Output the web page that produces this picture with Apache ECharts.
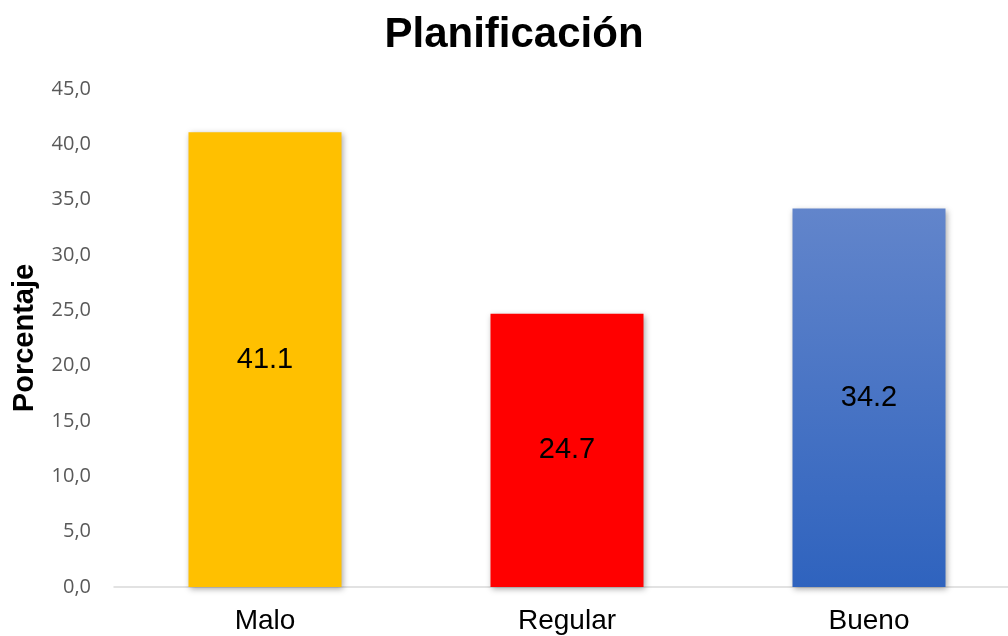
<!DOCTYPE html>
<html>
<head>
<meta charset="utf-8">
<script src="https://cdn.jsdelivr.net/npm/echarts@6/dist/echarts.min.js"></script>
<style>
  html, body { margin: 0; padding: 0; background: #ffffff; }
  #chart { width: 1008px; height: 636px; }
</style>
</head>
<body>
<div id="chart"></div>
<script>
// Chart data
const categories = ['Malo', 'Regular', 'Bueno'];
const values = [41.1, 24.7, 34.2];
const yTicks = [0, 5, 10, 15, 20, 25, 30, 35, 40, 45];

const barColors = [
  '#FFC000',
  '#FF0000',
  new echarts.graphic.LinearGradient(0, 0, 0, 1, [
    { offset: 0, color: '#6285CB' },
    { offset: 1, color: '#2F63BE' }
  ])
];

const chart = echarts.init(document.getElementById('chart'), null, { renderer: 'canvas' });

chart.setOption({
  animation: false,
  backgroundColor: '#ffffff',
  title: {
    text: 'Planificación',
    left: 509,
    top: 9,
    textAlign: 'center',
    textStyle: {
      fontFamily: 'Liberation Sans, Arial, sans-serif',
      fontSize: 42,
      fontWeight: 'bold',
      color: '#000000'
    }
  },
  grid: {
    left: 114,
    right: -12,
    top: 89,
    bottom: 49,
    containLabel: false,
    outerBoundsMode: 'none'
  },
  xAxis: {
    type: 'category',
    data: categories,
    axisLine: { show: true, lineStyle: { color: '#D9D9D9', width: 1.5 } },
    axisTick: { show: false },
    axisLabel: {
      margin: 20,
      fontFamily: 'Liberation Sans, Arial, sans-serif',
      fontSize: 28,
      color: '#000000'
    }
  },
  yAxis: {
    type: 'value',
    min: yTicks[0],
    max: yTicks[yTicks.length - 1],
    interval: yTicks[1] - yTicks[0],
    name: 'Porcentaje',
    nameLocation: 'middle',
    nameGap: 75,
    nameRotate: 90,
    nameTextStyle: {
      fontFamily: 'Liberation Sans, Arial, sans-serif',
      fontSize: 29,
      fontWeight: 'bold',
      color: '#000000'
    },
    axisLine: { show: false },
    axisTick: { show: false },
    splitLine: { show: false },
    axisLabel: {
      margin: 23,
      fontFamily: 'Open Sans, Liberation Sans, sans-serif',
      fontSize: 20,
      color: '#595959',
      formatter: v => v.toFixed(1).replace('.', ',')
    }
  },
  series: [{
    type: 'bar',
    barWidth: 153,
    data: values.map((v, i) => ({
      value: v,
      itemStyle: {
        color: barColors[i],
        shadowColor: 'rgba(0,0,0,0.35)',
        shadowBlur: 6,
        shadowOffsetX: 1,
        shadowOffsetY: 2
      }
    })),
    label: {
      show: true,
      position: 'inside',
      fontFamily: 'Liberation Sans, Arial, sans-serif',
      fontSize: 29,
      color: '#000000',
      formatter: p => p.value.toFixed(1)
    }
  }]
});
</script>
</body>
</html>
